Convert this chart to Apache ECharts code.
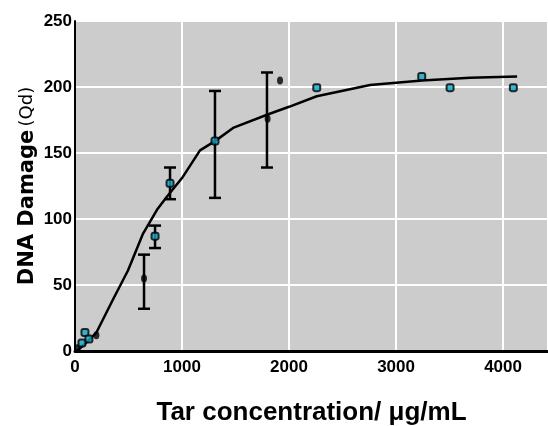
<!DOCTYPE html>
<html><head><meta charset="utf-8">
<script src="https://cdn.jsdelivr.net/npm/echarts@6/dist/echarts.min.js"></script>
<style>html,body{margin:0;padding:0;background:#fff}#c{width:548px;height:426px}</style>
</head><body><div id="c"></div>
<script>
// Fitted curve
var curveX = [20, 100, 200, 355, 495, 636, 766, 860, 1000, 1168, 1308, 1477, 1794, 2000, 2259, 2757, 3243, 3692, 4131];
var curveY = [0, 6, 14, 39, 61, 89, 107, 117, 131, 152, 159, 169, 179, 185, 193, 201.5, 205, 207, 208];
// Cyan measured points
var cyanX = [65, 93, 130, 748, 888, 1308, 2259, 3240, 3505, 4096];
var cyanY = [6, 14, 9, 87, 127, 159, 199.5, 208, 199.5, 199.5];
// Black points
var blackX = [20, 200, 645, 1800, 1916];
var blackY = [2, 12, 55, 176, 205];
// Error bars
var errX = [645, 748, 888, 1308, 1794];
var errLow = [32, 78, 115, 116, 139];
var errHigh = [73, 95, 139, 197, 211];
// Ticks
var xTicks = [0, 1000, 2000, 3000, 4000];
var yTicks = [0, 50, 100, 150, 200, 250];

function zip(a, b) { return a.map(function (v, i) { return [v, b[i]]; }); }

var tickFont = { fontFamily: 'Liberation Sans', fontWeight: 'bold', fontSize: 17, color: '#000' };

var chart = echarts.init(document.getElementById('c'), null, { renderer: 'canvas' });
chart.setOption({
  animation: false,
  grid: { left: 75, top: 21, right: 0, bottom: 75, show: true, backgroundColor: '#cccccc', borderWidth: 0,
    containLabel: false, outerBoundsMode: 'none' },
  xAxis: {
    type: 'value', min: 0, max: 4420, interval: 1000,
    axisLine: { show: true, lineStyle: { color: '#000', width: 3 } },
    axisTick: { show: false },
    splitLine: { show: true, lineStyle: { color: '#fff', width: 2 } },
    axisLabel: Object.assign({ margin: 8, showMaxLabel: false,
      formatter: function (v) { return xTicks.indexOf(v) >= 0 ? String(v) : ''; } }, tickFont),
    name: 'Tar concentration/ \u03bcg/mL', nameLocation: 'middle', nameGap: 49, nameMoveOverlap: false,
    nameTextStyle: { fontFamily: 'Liberation Sans', fontWeight: 'bold', fontSize: 26, color: '#000' }
  },
  yAxis: {
    type: 'value', min: 0, max: 250, interval: 50,
    axisLine: { show: true, lineStyle: { color: '#000', width: 2 } },
    axisTick: { show: false },
    splitLine: { show: true, lineStyle: { color: '#fff', width: 2 } },
    axisLabel: Object.assign({ margin: 3,
      formatter: function (v) { return yTicks.indexOf(v) >= 0 ? String(v) : ''; } }, tickFont),
    name: '{b|DNA Damage} {n|(Qd)}', nameLocation: 'middle', nameGap: 37, nameRotate: 90, nameMoveOverlap: false,
    nameTextStyle: { rich: {
      b: { fontFamily: 'DejaVu Sans', fontWeight: 'bold', fontSize: 21, color: '#000' },
      n: { fontFamily: 'DejaVu Sans', fontWeight: 'normal', fontSize: 18, color: '#000' } } }
  },
  series: [
    { type: 'line', data: zip(curveX, curveY), showSymbol: false, smooth: false,
      lineStyle: { color: '#000', width: 2.5 }, z: 3 },
    { type: 'custom', z: 4,
      data: errX.map(function (x, i) { return [x, errLow[i], errHigh[i]]; }),
      renderItem: function (params, api) {
        var lo = api.coord([api.value(0), api.value(1)]);
        var hi = api.coord([api.value(0), api.value(2)]);
        var w = 6;
        var st = { stroke: '#000', lineWidth: 2.5 };
        return { type: 'group', children: [
          { type: 'line', shape: { x1: lo[0], y1: lo[1], x2: hi[0], y2: hi[1] }, style: st },
          { type: 'line', shape: { x1: lo[0] - w, y1: lo[1], x2: lo[0] + w, y2: lo[1] }, style: st },
          { type: 'line', shape: { x1: hi[0] - w, y1: hi[1], x2: hi[0] + w, y2: hi[1] }, style: st }
        ] };
      } },
    { type: 'scatter', data: zip(blackX, blackY), symbol: 'circle', symbolSize: [6, 8],
      itemStyle: { color: '#000' }, z: 5 },
    { type: 'scatter', data: zip(cyanX, cyanY), symbol: 'roundRect', symbolSize: 7,
      itemStyle: { color: '#10a8c8', borderColor: '#000', borderWidth: 2 }, z: 6 }
  ]
});
</script></body></html>
